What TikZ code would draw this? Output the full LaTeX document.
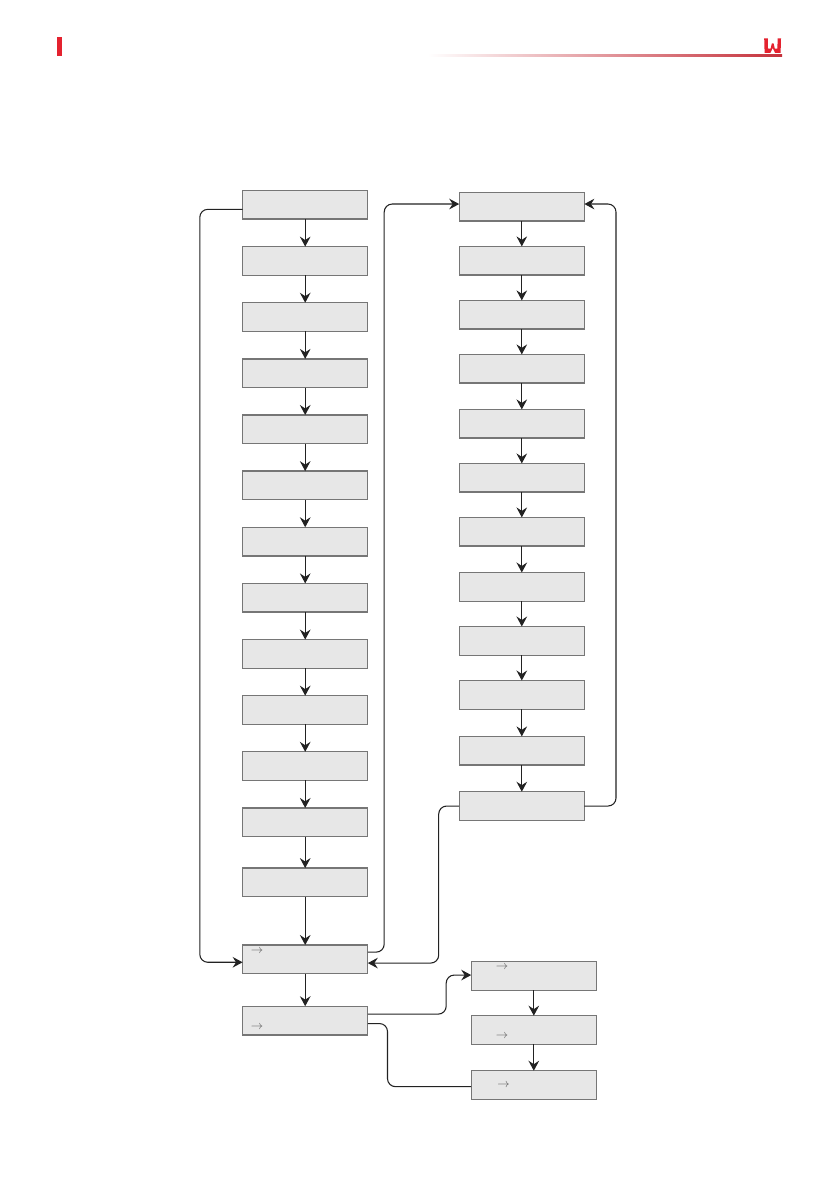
\documentclass[tikz,border=0pt]{standalone}
\usepackage{amsmath,amssymb}
\usepackage{xcolor}
\usepackage{tikz}
\usetikzlibrary{positioning, arrows.meta}
\definecolor{headred}{HTML}{E4222F}
\definecolor{rulered}{HTML}{C5303A}
\definecolor{rulepeach}{HTML}{E3B09A}
\definecolor{boxfill}{HTML}{E7E7E7}
\definecolor{boxline}{HTML}{767676}
\definecolor{flowline}{HTML}{222222}

\begin{document}
\begin{tikzpicture}[x=0.75pt, y=-0.75pt, ->, >={Stealth[length=7.5pt,width=8pt,inset=2.6pt]}, color=flowline, line width=0.8pt, node distance=20.6pt,
    flowbox/.style={draw=boxline, fill=boxfill, line width=1pt, outer sep=0pt, inner sep=0pt, minimum width=93.9pt, minimum height=21.5pt},
    arrowmark/.style={text=flowline!70, inner sep=0pt, font=\small},
    link/.style={rounded corners=6pt}]
    \useasboundingbox (0,0) rectangle (839,1191);

    \fill[headred] (57.3,37.5) rectangle (61.5,56);
    \shade[left color=white, middle color=rulepeach, right color=rulered, draw=none] (428,54.8) rectangle (782,56.6);
    \fill[headred] (764.2,38.5) -- (767.8,38.5) -- (768,48.6) -- (770.6,48.6) -- (771.8,43.5) -- (773.6,43.5) -- (774.8,48.6) -- (777.4,48.6) -- (777.6,38.5) -- (781,38.5) -- (780.6,52.8) -- (775,52.8) -- (772.7,48) -- (770.4,52.8) -- (764.6,52.8) -- cycle;

    \node[flowbox] (l1) at (305.2,204.8) {};
    \node[flowbox] (l2) [below=of l1] {};
    \node[flowbox] (l3) [below=of l2] {};
    \node[flowbox] (l4) [below=of l3] {};
    \node[flowbox] (l5) [below=of l4] {};
    \node[flowbox] (l6) [below=of l5] {};
    \node[flowbox] (l7) [below=of l6] {};
    \node[flowbox] (l8) [below=of l7] {};
    \node[flowbox] (l9) [below=of l8] {};
    \node[flowbox] (l10) [below=of l9] {};
    \node[flowbox] (l11) [below=of l10] {};
    \node[flowbox] (l12) [below=of l11] {};
    \node[flowbox] (l13) [below=23.6pt of l12] {};
    \node[flowbox] (l14) [below=36.2pt of l13] {};
    \node[flowbox] (l15) [below=24.4pt of l14] {};

    \node[flowbox] (r1) at (521.8,206.7) {};
    \node[flowbox] (r2) [below=19pt of r1] {};
    \node[flowbox] (r3) [below=19pt of r2] {};
    \node[flowbox] (r4) [below=19pt of r3] {};
    \node[flowbox] (r5) [below=19.8pt of r4] {};
    \node[flowbox] (r6) [below=19pt of r5] {};
    \node[flowbox] (r7) [below=19pt of r6] {};
    \node[flowbox] (r8) [below=19.8pt of r7] {};
    \node[flowbox] (r9) [below=19pt of r8] {};
    \node[flowbox] (r10) [below=19pt of r9] {};
    \node[flowbox] (r11) [below=20.4pt of r10] {};
    \node[flowbox] (r12) [below=20pt of r11] {};

    \node[flowbox] (b1) at (533.8,976) {};
    \node[flowbox] (b2) [below=19pt of b1] {};
    \node[flowbox] (b3) [below=19.8pt of b2] {};

    \node[arrowmark] (m14) at (257,951.5) {$\rightarrow$};
    \node[arrowmark] (m15) at (257,1027) {$\rightarrow$};
    \node[arrowmark] (m1) at (502,967.3) {$\rightarrow$};
    \node[arrowmark] (m2) at (502,1036.5) {$\rightarrow$};
    \node[arrowmark] (m3) at (503.5,1085.3) {$\rightarrow$};

    \path (l1) edge (l2)
          (l2) edge (l3)
          (l3) edge (l4)
          (l4) edge (l5)
          (l5) edge (l6)
          (l6) edge (l7)
          (l7) edge (l8)
          (l8) edge (l9)
          (l9) edge (l10)
          (l10) edge (l11)
          (l11) edge (l12)
          (l12) edge (l13)
          (l13) edge (l14)
          (l14) edge (l15);
    \path (r1) edge (r2)
          (r2) edge (r3)
          (r3) edge (r4)
          (r4) edge (r5)
          (r5) edge (r6)
          (r6) edge (r7)
          (r7) edge (r8)
          (r8) edge (r9)
          (r9) edge (r10)
          (r10) edge (r11)
          (r11) edge (r12);
    \path (b1) edge (b2)
          (b2) edge (b3);

    \draw[link] ([yshift=-3.4pt]l1.west) -- ++(-42.8,0) |- ([yshift=-2.2pt]l14.west);
    \draw[link] ([yshift=5.4pt]l14.east) -- ++(16.4,0) |- ([yshift=2pt]r1.west);
    \draw[link] (r12.east) -- ++(31.6,0) |- ([yshift=2pt]r1.east);
    \draw[link] (r12.west) -- ++(-20.5,0) |- ([yshift=-2.8pt]l14.east);
    \draw[link] ([yshift=4.8pt]l15.east) -- ++(78.4,0) |- ([yshift=0.7pt]b1.west);
    \draw[link, -] ([yshift=-2.25pt]l15.east) -- ++(19.7,0) |- ([yshift=-1.2pt]b3.west);
\end{tikzpicture}
\end{document}
